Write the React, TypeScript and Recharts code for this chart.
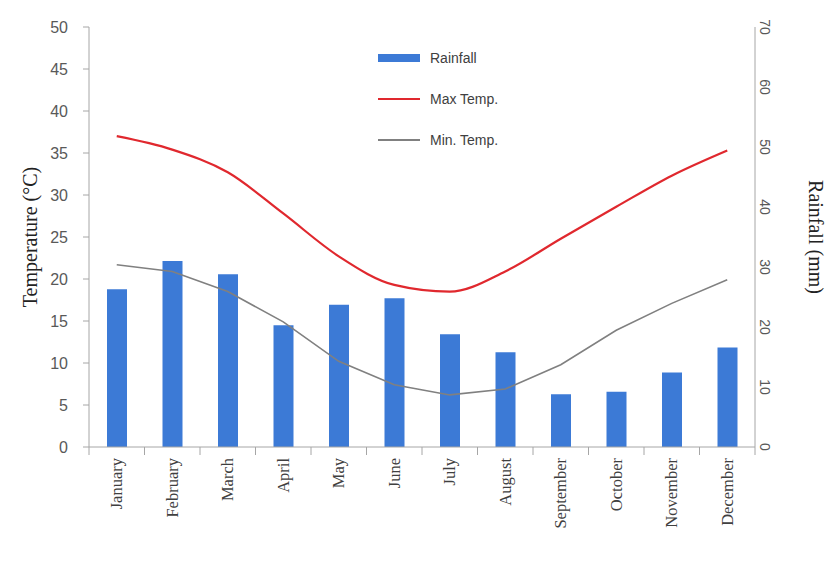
import { ComposedChart, Bar, Line, XAxis, YAxis } from "recharts";

const months = ["January", "February", "March", "April", "May", "June", "July", "August", "September", "October", "November", "December"];
const rainfall = [26.3, 31.0, 28.8, 20.3, 23.7, 24.8, 18.8, 15.8, 8.8, 9.2, 12.4, 16.6];
const maxTemp = [37.0, 35.4, 32.7, 27.8, 22.7, 19.3, 18.5, 20.9, 24.8, 28.6, 32.3, 35.3];
const minTemp = [21.7, 20.9, 18.5, 14.9, 10.2, 7.4, 6.2, 6.9, 9.8, 13.9, 17.1, 19.9];
const tempTicks = [0, 5, 10, 15, 20, 25, 30, 35, 40, 45, 50];
const rainTicks = [0, 10, 20, 30, 40, 50, 60, 70];

const data = months.map((m, i) => ({
  name: m,
  rain: rainfall[i],
  max: maxTemp[i],
  min: minTemp[i],
}));

const BAND = 55.5;

function MonthTick(props: any) {
  const { x, y, payload, index } = props;
  return (
    <g>
      <line x1={x - BAND / 2} y1={y - 8} x2={x - BAND / 2} y2={y} stroke="#a6a6a6" />
      {index === months.length - 1 && (
        <line x1={x + BAND / 2} y1={y - 8} x2={x + BAND / 2} y2={y} stroke="#a6a6a6" />
      )}
      <text
        x={x}
        y={y + 3}
        transform={`rotate(-90, ${x}, ${y + 3})`}
        textAnchor="end"
        dominantBaseline="central"
        fontFamily="Liberation Serif"
        fontSize={16.5}
        fill="#404040"
      >
        {payload.value}
      </text>
    </g>
  );
}

function RainTick(props: any) {
  const { x, y, payload } = props;
  return (
    <text
      x={x + 2}
      y={y}
      transform={`rotate(90, ${x + 2}, ${y})`}
      textAnchor="middle"
      dominantBaseline="central"
      fontFamily="Liberation Sans"
      fontSize={14}
      fill="#595959"
    >
      {payload.value}
    </text>
  );
}

function ChartLegend() {
  const row = { display: "flex", alignItems: "center", height: 41 } as const;
  const label = { marginLeft: 10, fontFamily: "Liberation Sans", fontSize: 14, color: "#404040" };
  return (
    <div style={{ position: "absolute", left: 378, top: 37 }}>
      <div style={row}>
        <div style={{ width: 42, height: 8, background: "#3c7ad6" }} />
        <span style={label}>Rainfall</span>
      </div>
      <div style={row}>
        <div style={{ width: 42, height: 2, background: "#e0282e" }} />
        <span style={label}>Max Temp.</span>
      </div>
      <div style={row}>
        <div style={{ width: 42, height: 2, background: "#808080" }} />
        <span style={label}>Min. Temp.</span>
      </div>
    </div>
  );
}

export default function App() {
  return (
    <div style={{ position: "absolute", left: 0, top: 0, width: 830, height: 561, background: "#fff" }}>
      <ComposedChart width={830} height={561} data={data} margin={{ top: 27, right: 0, bottom: 0, left: 0 }}>
        <XAxis
          dataKey="name"
          height={114}
          interval={0}
          axisLine={{ stroke: "#a6a6a6" }}
          tickLine={false}
          tick={<MonthTick />}
        />
        <YAxis
          yAxisId="temp"
          width={89}
          domain={[0, 50]}
          ticks={tempTicks}
          interval={0}
          axisLine={{ stroke: "#a6a6a6" }}
          tickLine={{ stroke: "#a6a6a6" }}
          tickSize={6}
          tickMargin={15}
          tick={{ fill: "#595959", fontSize: 16, fontFamily: "Liberation Sans" }}
          label={{
            value: "Temperature (°C)",
            angle: -90,
            position: "insideLeft",
            offset: 30,
            style: { textAnchor: "middle", fontFamily: "Liberation Serif", fontSize: 20, fill: "#222" },
          }}
        />
        <YAxis
          yAxisId="rain"
          orientation="right"
          width={75}
          domain={[0, 70]}
          ticks={rainTicks}
          interval={0}
          axisLine={{ stroke: "#a6a6a6" }}
          tickLine={false}
          tick={<RainTick />}
          label={{
            value: "Rainfall (mm)",
            angle: 90,
            position: "insideRight",
            offset: 14,
            style: { textAnchor: "middle", fontFamily: "Liberation Serif", fontSize: 20, fill: "#222" },
          }}
        />
        <Bar yAxisId="rain" dataKey="rain" name="Rainfall" fill="#3c7ad6" barSize={20} isAnimationActive={false} />
        <Line yAxisId="temp" type="monotone" dataKey="max" name="Max Temp." stroke="#e0282e" strokeWidth={2.2} dot={false} isAnimationActive={false} />
        <Line yAxisId="temp" type="linear" dataKey="min" name="Min. Temp." stroke="#808080" strokeWidth={1.6} dot={false} isAnimationActive={false} />
      </ComposedChart>
      <ChartLegend />
    </div>
  );
}
